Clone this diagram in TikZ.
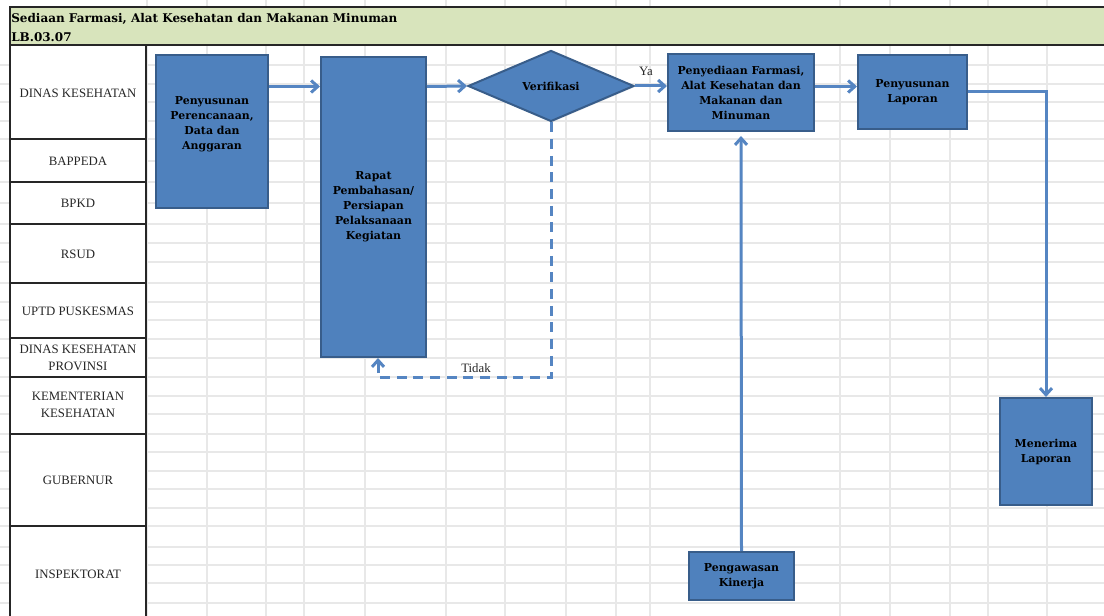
\documentclass[tikz,border=0pt]{standalone}
\usepackage{fontspec}
\setmainfont{Liberation Serif}
\newfontfamily\slabfont{DejaVu Serif}
\usetikzlibrary{shapes.geometric,arrows.meta,shadows}
\definecolor{kotakisi}{HTML}{4F81BD}
\definecolor{kotakgaris}{HTML}{385D8A}
\definecolor{panahwarna}{HTML}{5585C2}
\definecolor{kepala}{HTML}{D8E4BC}
\definecolor{kisi}{HTML}{E8E8E8}
\definecolor{garis}{HTML}{262626}
\tikzset{
  kotak/.style={draw=kotakgaris, fill=kotakisi, line width=1.5pt, align=center, inner sep=2pt,
    font=\slabfont\bfseries\fontsize{8.2}{11.25}\selectfont,
    drop shadow={opacity=0.2, shadow xshift=0.8pt, shadow yshift=-0.8pt}},
  isi/.style={align=center, font=\slabfont\bfseries\fontsize{8.2}{11.25}\selectfont},
  panah/.style={draw=panahwarna, line width=2.25pt, -{Straight Barb[length=5pt,width=9pt]}},
  lajur/.style={align=center, text=garis, font=\fontsize{9.6}{12.5}\selectfont},
  catatan/.style={text=garis, font=\fontsize{9.6}{12}\selectfont},
}
\begin{document}
\begin{tikzpicture}[x=0.75pt,y=-0.75pt]
\useasboundingbox (0,0) rectangle (1104,616);
% the sheet grid
\foreach \y in {65,84,102,121,139,161,182,203,224,243,262,283,302,320,339,358,377,396,414,434,452,471,489,508,526,547,565,583,603}
  \draw[kisi, line width=1.1pt] (0,\y) -- (1104,\y);
\foreach \x in {147,207,266,304,365,446,505,566,616,650,840,890,950,988,1047}
  \draw[kisi, line width=1.1pt] (\x,0) -- (\x,616);
% title row
\fill[kepala] (10,7) rectangle (1104,45);
\node[anchor=west, align=left, inner sep=0pt, font=\slabfont\bfseries\fontsize{9}{14.25}\selectfont] (judul) at (11,27.5)
  {Sediaan Farmasi, Alat Kesehatan dan Makanan Minuman\\LB.03.07};
% column of lanes
\fill[white] (10,45) rectangle (146,616);
\draw[garis, line width=1.5pt] (1104,7) -- (10,7) -- (10,616);
\draw[garis, line width=1.5pt] (10,45) -- (1104,45);
\draw[garis, line width=1.5pt] (146,45) -- (146,616);
\foreach \y in {139,182,224,283,338,377,434,526}
  \draw[garis, line width=1.1pt] (10,\y) -- (146,\y);
\node[lajur] (dinkes) at (78,93) {DINAS KESEHATAN};
\node[lajur] (bappeda) at (78,161) {BAPPEDA};
\node[lajur] (bpkd) at (78,203) {BPKD};
\node[lajur] (rsud) at (78,254) {RSUD};
\node[lajur] (uptd) at (78,311) {UPTD PUSKESMAS};
\node[lajur] (dinkesprov) at (78,358) {DINAS KESEHATAN\\PROVINSI};
\node[lajur] (kemenkes) at (78,405) {KEMENTERIAN\\KESEHATAN};
\node[lajur] (gubernur) at (78,480) {GUBERNUR};
\node[lajur] (inspektorat) at (78,574) {INSPEKTORAT};
% process boxes
\node[kotak, minimum width=84pt, minimum height=114.75pt] (perencanaan) at (212,131.5) {};
\node[isi] (perencanaan-teks) at (212,124) {Penyusunan\\Perencanaan,\\Data dan\\Anggaran};
\node[kotak, minimum width=78.75pt, minimum height=225pt] (rapat) at (373.5,207)
  {Rapat\\Pembahasan/\\Persiapan\\Pelaksanaan\\Kegiatan};
\node[kotak, diamond, minimum width=124.5pt, minimum height=53.25pt, inner sep=0pt] (verif) at (551,86) {Verifikasi};
\node[kotak, minimum width=109.5pt, minimum height=57.75pt] (penyediaan) at (741,92.5)
  {Penyediaan Farmasi,\\Alat Kesehatan dan\\Makanan dan\\Minuman};
\node[kotak, minimum width=81.75pt, minimum height=55.5pt] (laporan) at (912.5,92) {Penyusunan\\Laporan};
\node[kotak, minimum width=69pt, minimum height=80.25pt] (menerima) at (1046,451.5) {Menerima\\Laporan};
\node[kotak, minimum width=78.75pt, minimum height=36pt] (pengawasan) at (741.5,576) {Pengawasan\\Kinerja};
% connectors
\coordinate (jalur) at (0,86.5);
\coordinate (tidak) at (378,378);
\draw[panah] (perencanaan.east |- jalur) -- (rapat.west |- jalur);
\draw[panah] (rapat.east |- jalur) -- (verif.west);
\draw[panah] (verif.east) -- (penyediaan.west |- verif.east);
\draw[panah] (penyediaan.east |- jalur) -- (laporan.west |- jalur);
\draw[panah] (laporan.east) -| (menerima.north);
\draw[panah, shorten >=3pt] (pengawasan.north) -- (penyediaan.south);
\draw[panah, dash pattern=on 7.5pt off 5pt] (verif.south) |- (tidak) -- (tidak |- rapat.south);
\node[catatan] (ya) at (646,71) {Ya};
\node[catatan] (tdk) at (476,368) {Tidak};
\end{tikzpicture}
\end{document}
